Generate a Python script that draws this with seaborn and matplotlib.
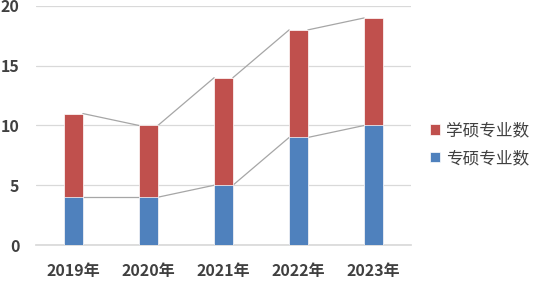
import numpy as np
import pandas as pd
import matplotlib
matplotlib.use("Agg")
import matplotlib.pyplot as plt
import seaborn as sns

years = ["2019年", "2020年", "2021年", "2022年", "2023年"]
zhuanshuo = [4, 4, 5, 9, 10]   # 专硕专业数
xueshuo = [7, 6, 9, 9, 9]      # 学硕专业数
yticks = [0, 5, 10, 15, 20]

red = "#C0504D"
blue = "#4F81BD"

sns.set_theme(style="white")
plt.rcParams['font.family'] = ['Noto Sans CJK SC', 'DejaVu Sans']

df = pd.DataFrame({"year": years, "zs": zhuanshuo, "xs": xueshuo})
df["total"] = df["zs"] + df["xs"]

fig = plt.figure(figsize=(5.41, 2.83), dpi=100)
ax = fig.add_axes([36/541, 1-245/283, 375/541, 239/283])

w = 0.25
# 堆积柱：先画总数（红），再画专硕（蓝）
sns.barplot(data=df, x="year", y="total", color=red, width=w, ax=ax,
            saturation=1, label="学硕专业数", zorder=3,
            edgecolor="white", linewidth=0.5)
sns.barplot(data=df, x="year", y="zs", color=blue, width=w, ax=ax,
            saturation=1, label="专硕专业数", zorder=3,
            edgecolor="white", linewidth=0.5)

# 系列线
for col in ["zs", "total"]:
    v = df[col].values
    for i in range(len(v) - 1):
        ax.plot([i + w/2, i + 1 - w/2], [v[i], v[i+1]], color="#a6a6a6",
                lw=0.9, zorder=2)

ax.set_xlim(-0.5, 4.5)
ax.set_ylim(0, 20)
ax.set_yticks(yticks)
ax.yaxis.grid(True, color="#d9d9d9", lw=0.9, zorder=0)
ax.set_axisbelow(True)
for s in ["top", "right", "left"]:
    ax.spines[s].set_visible(False)
ax.spines["bottom"].set_color("#d9d9d9")
ax.set_xlabel("")
ax.set_ylabel("")
ax.tick_params(axis="both", length=0, labelsize=11.5, labelcolor="#404040")
ax.tick_params(axis="x", pad=13)
ax.tick_params(axis="y", pad=12)
for t in ax.get_xticklabels() + ax.get_yticklabels():
    t.set_fontweight("bold")

leg = ax.legend(loc="center left", bbox_to_anchor=(1.01, 0.42), frameon=False,
                fontsize=12, handlelength=0.6, handleheight=0.6,
                handletextpad=0.4, labelspacing=0.65, labelcolor="#404040")

fig.savefig("out.png", dpi=100)
